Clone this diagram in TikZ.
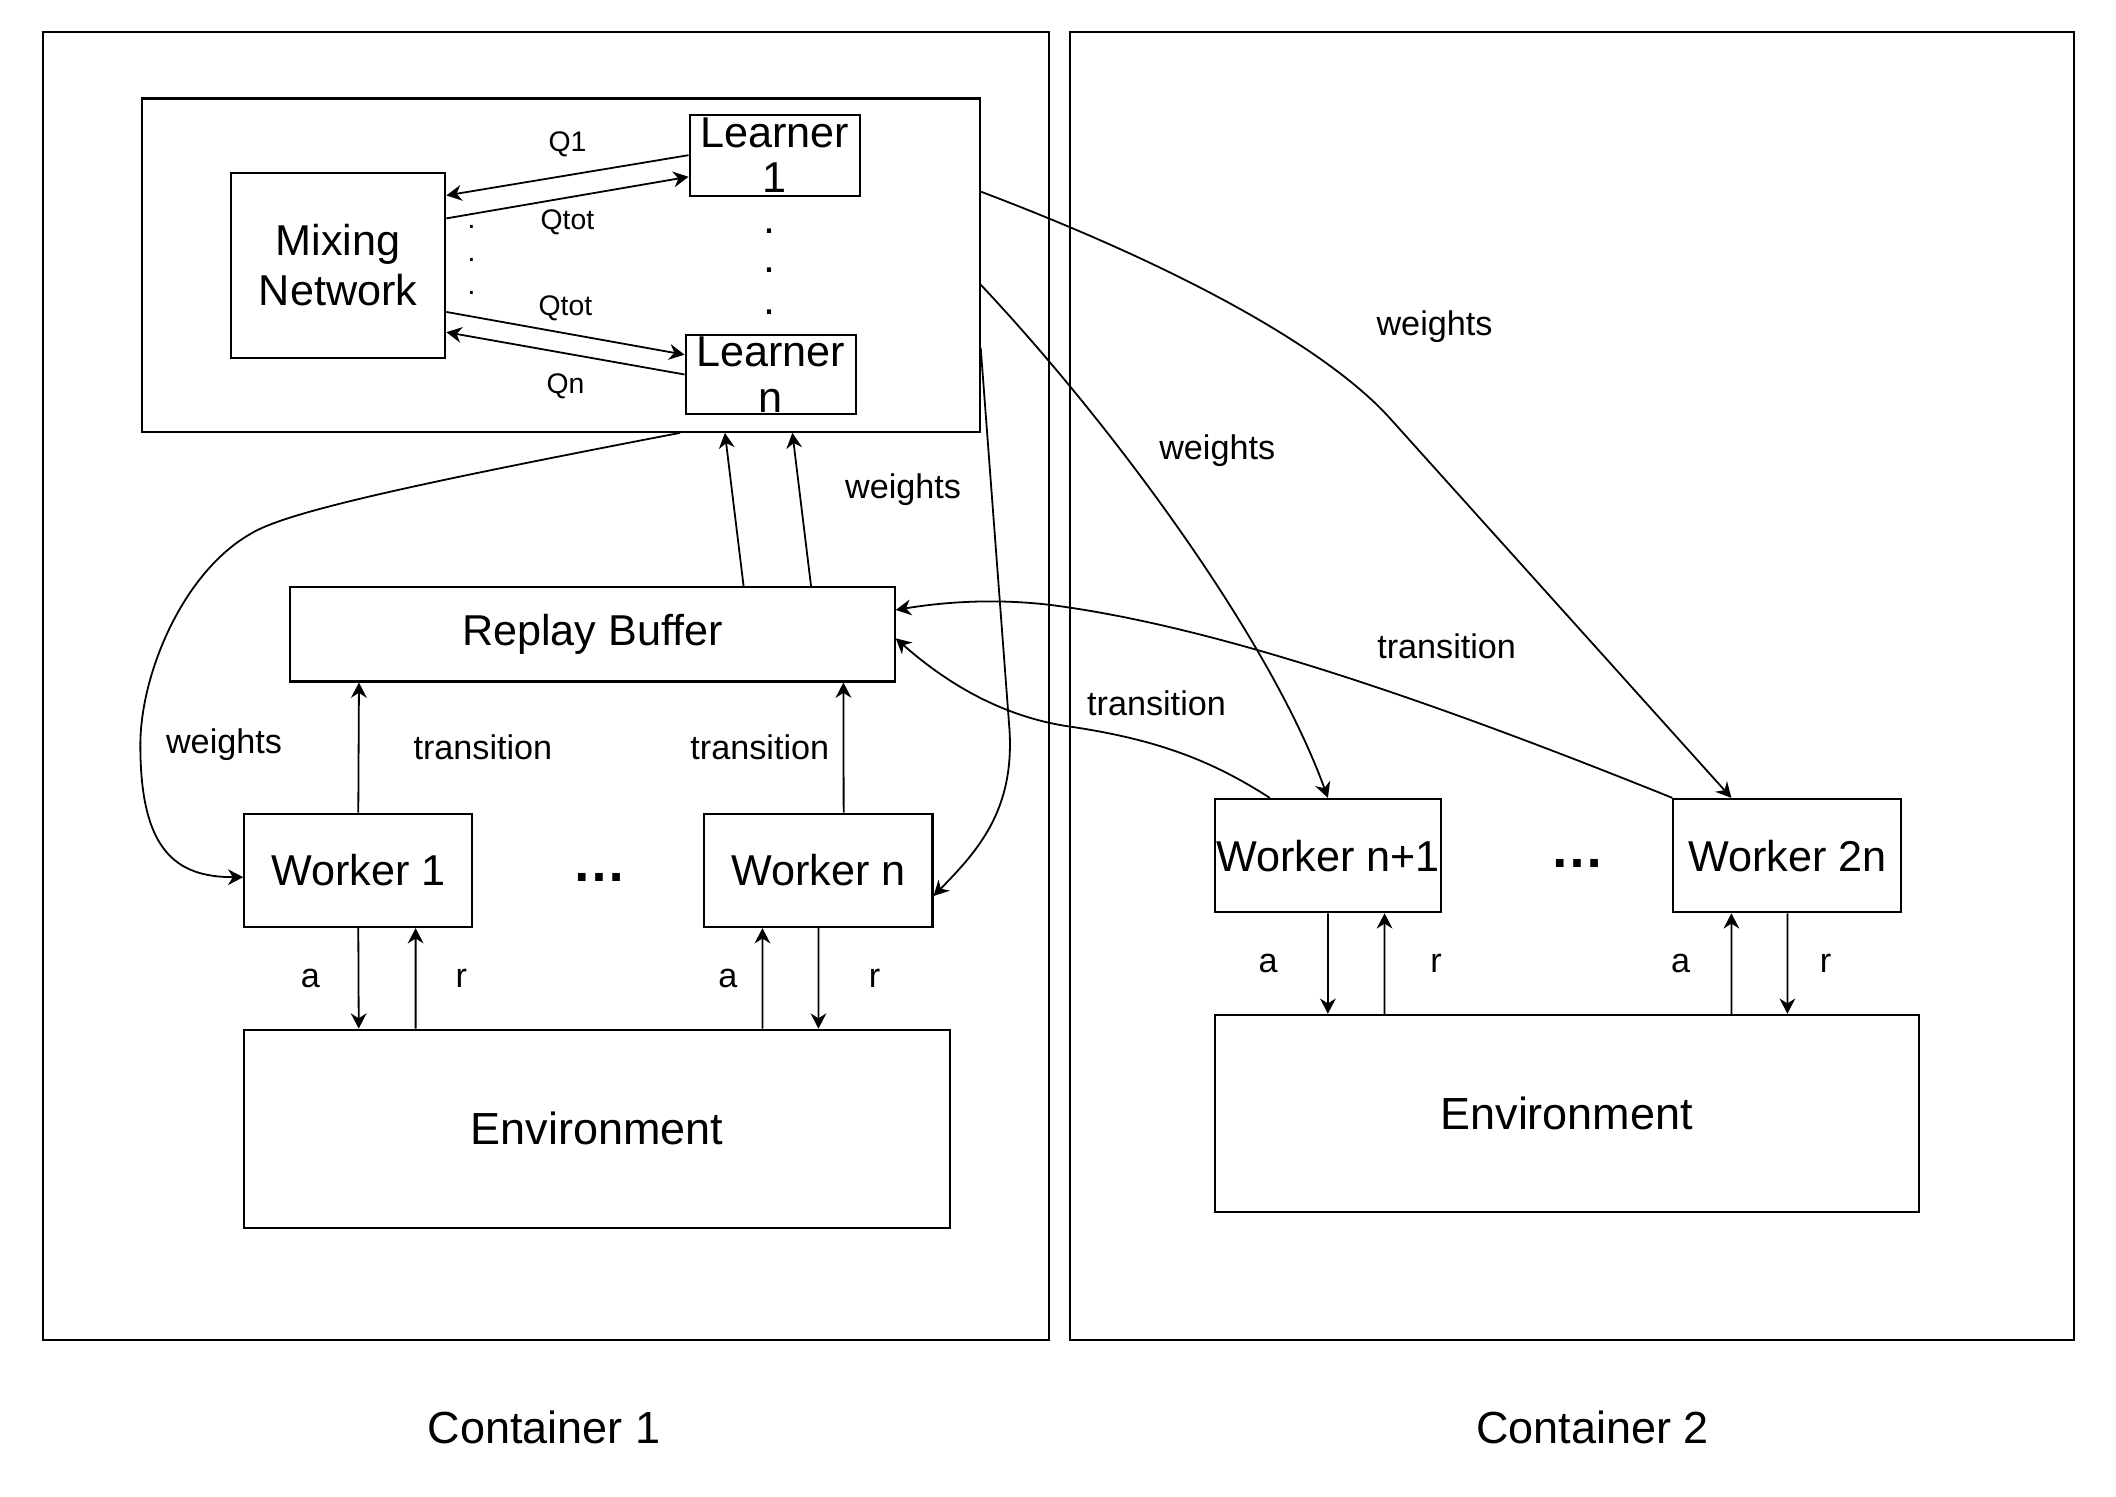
\documentclass[tikz,border=0pt]{standalone}
\usepackage{fontspec}
\setmainfont{Liberation Sans}
\usepackage{tikz}
\usetikzlibrary{shapes,arrows.meta}
\usetikzlibrary{positioning,calc}
\tikzset{box/.style={draw, line width=0.45pt, inner sep=0pt, align=center, font=\fontsize{9.6}{11}\selectfont},
big/.style={inner sep=0pt, align=center, font=\fontsize{9.6}{10.2}\selectfont},
lbl/.style={inner sep=0pt, font=\fontsize{7.6}{9}\selectfont},
qlbl/.style={inner sep=0pt, font=\fontsize{6.3}{7.5}\selectfont},
etc/.style={inner sep=0pt, font=\fontsize{12}{14}\bfseries},
link/.style={line width=0.4pt, -{Stealth[length=3.4pt,width=3.5pt,inset=1.1pt]}}
}

\begin{document}
\begin{tikzpicture}[x=0.3pt, y=-0.3pt]
        \useasboundingbox (0,0) rectangle (1568,1108.6);

        % containers
        \node[box, minimum width=223.5pt, minimum height=290.7pt] (c_1) at (404.5,508.5) {};
        \node[box, minimum width=223.2pt, minimum height=290.7pt] (c_2) at (1165,508.5)  {};
        \node[big, font=\fontsize{10}{12}\selectfont] (t_1) at (403,1058)  {Container 1};
        \node[big, font=\fontsize{10}{12}\selectfont] (t_2) at (1180,1058) {Container 2};

        % learners
        \node[box, minimum width=186.3pt, minimum height=74.1pt] (grp) at (415.5,196.5) {};
        \node[box, minimum width=47.7pt, minimum height=41.1pt]  (mix) at (250.5,196.5) {Mixing\\Network};
        \node[box, minimum width=37.8pt, minimum height=18pt,
              label={[big]center:{Learner\\1}}] (l_1) at (574,115) {};
        \node[box, minimum width=37.8pt, minimum height=17.7pt,
              label={[big]center:{Learner\\n}}] (l_n) at (571,277.5) {};
        \node[qlbl] (p_1) at (349.5,168) {.};
        \node[qlbl] (p_2) at (349.5,193) {.};
        \node[qlbl] (p_3) at (349.5,217) {.};
        \node[big]  (p_4) at (570.5,171) {.};
        \node[big]  (p_5) at (570.5,200) {.};
        \node[big]  (p_6) at (570.5,231) {.};

        \node[box, minimum width=134.4pt, minimum height=21pt] (rb) at (439,470) {Replay Buffer};

        % workers
        \node[box, minimum width=50.7pt, minimum height=25.2pt] (w_1)  at (265.5,645)  {Worker 1};
        \node[box, minimum width=50.7pt, minimum height=25.2pt] (w_n)  at (606.5,645)  {Worker n};
        \node[box, minimum width=50.4pt, minimum height=25.2pt] (w_n1) at (984,634)    {Worker n+1};
        \node[box, minimum width=50.7pt, minimum height=25.2pt] (w_2n) at (1324.5,634) {Worker 2n};
        \node[etc] (e_1) at (444,650)  {…};
        \node[etc] (e_2) at (1169,640) {…};

        \node[box, font=\fontsize{10}{12}\selectfont, minimum width=156.9pt, minimum height=44.1pt] (env_1) at (442.5,836.5) {Environment};
        \node[box, font=\fontsize{10}{12}\selectfont, minimum width=156.6pt, minimum height=43.8pt] (env_2) at (1161,825)    {Environment};

        \path[link] (l_1.west)               edge node[qlbl, above=4pt]   {Q1}   ([yshift=15.5pt]mix.east)
                    ([yshift=10.4pt]mix.east)  edge node[qlbl, below=2.5pt] {Qtot} ([yshift=-4.8pt]l_1.west)
                    ([yshift=-10.4pt]mix.east) edge node[qlbl, above=2.5pt] {Qtot} ([yshift=4.4pt]l_n.west)
                    (l_n.west)               edge node[qlbl, below=4.3pt] {Qn}   ([yshift=-14.9pt]mix.east);

        \path[link] ([xshift=33.6pt]rb.north) edge ([xshift=36.5pt]grp.south)
                    ([xshift=48.6pt]rb.north) edge node[lbl, pos=0.63, right=10pt] {weights} ([xshift=51.5pt]grp.south)
                    (w_1.north)               edge node[lbl, right=12pt] {transition} ([xshift=-51.9pt]rb.south)
                    ([xshift=5.6pt]w_n.north) edge node[lbl, left=3pt]   {transition} ([xshift=55.8pt]rb.south);

        \path[link] (w_1.south)                    edge node[lbl, left=8.4pt]  {a} ([xshift=-53pt]env_1.north)
                    ([xshift=-40.35pt]env_1.north) edge node[lbl, right=8.7pt] {r} ([xshift=12.75pt]w_1.south)
                    ([xshift=36.75pt]env_1.north)  edge node[lbl, left=5.4pt]  {a} ([xshift=-12.45pt]w_n.south)
                    (w_n.south)                    edge node[lbl, right=11pt]  {r} ([xshift=49.2pt]env_1.north)
                    (w_n1.south)                   edge node[lbl, left=11pt]   {a} ([xshift=-53.1pt]env_2.north)
                    ([xshift=-40.5pt]env_2.north)  edge node[lbl, right=10pt]  {r} ([xshift=12.6pt]w_n1.south)
                    ([xshift=36.6pt]env_2.north)   edge node[lbl, left=9pt]    {a} ([xshift=-12.45pt]w_2n.south)
                    (w_2n.south)                   edge node[lbl, right=7pt]   {r} ([xshift=49.05pt]env_2.north);

        % long connectors
        \draw[link] ([xshift=26.55pt]grp.south) .. controls (300,360) and (210,380) .. (185,396)
                    .. controls (135,425) and (104,500) .. (104,552)
                    .. controls (104,630) and (130,650) .. ([yshift=-1.5pt]w_1.west);
        \draw[link] ([yshift=-18.45pt]grp.east) -- (748,540) .. controls (752,600) and (725,630) .. ([yshift=-5.7pt]w_n.east);
        \draw[link] ([yshift=16.35pt]grp.east) .. controls (880,200) and (985,260) .. (1030,310) -- ([xshift=-12.45pt]w_2n.north);
        \draw[link] ([yshift=-4.35pt]grp.east) .. controls (820,310) and (940,470) .. (w_n1.north);
        \draw[link] ([xshift=-12.9pt]w_n1.north) .. controls (900,565) and (860,548) .. (790,538)
                    .. controls (740,530) and (700,505) .. ([yshift=-0.9pt]rb.east);
        \draw[link] (w_2n.north west) .. controls (1050,515) and (900,465) .. (784,449)
                    .. controls (740,443) and (700,446) .. ([yshift=5.4pt]rb.east);

        \node[lbl] (k_1) at (166,552)  {weights};
        \node[lbl] (k_2) at (1063,242) {weights};
        \node[lbl] (k_3) at (902,334)  {weights};
        \node[lbl] (k_4) at (857,521)  {transition};
        \node[lbl] (k_5) at (1072,479) {transition};
\end{tikzpicture}
\end{document}
